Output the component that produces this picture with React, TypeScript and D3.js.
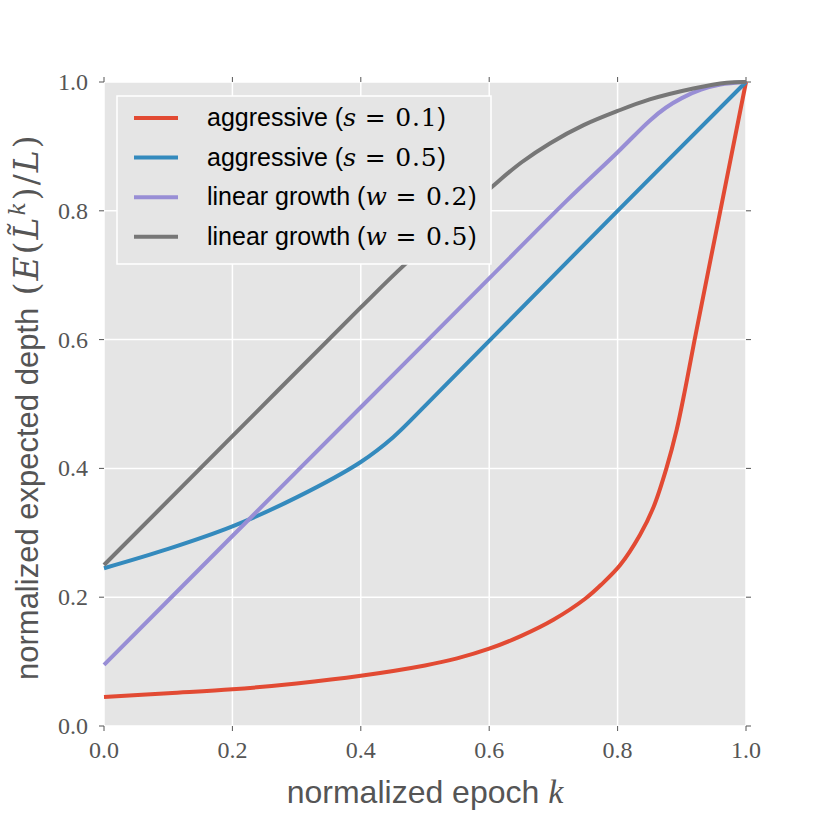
import React from 'react'
import * as d3 from 'd3'

const xTicks = [0, 0.2, 0.4, 0.6, 0.8, 1.0]
const yTicks = [0, 0.2, 0.4, 0.6, 0.8, 1.0]

// values (k, normalized depth)
const aggressive01 = [
  [0, 0.045], [0.1, 0.051], [0.2, 0.057], [0.3, 0.066], [0.4, 0.078], [0.5, 0.094],
  [0.55, 0.105], [0.6, 0.12], [0.65, 0.14], [0.7, 0.165], [0.75, 0.198], [0.775, 0.22],
  [0.804, 0.25], [0.835, 0.297], [0.856, 0.34], [0.876, 0.4], [0.892, 0.46], [0.905, 0.522],
  [0.92, 0.6], [0.96, 0.8], [1.0, 1.0]
]
const aggressive05 = [
  [0, 0.245], [0.1, 0.275], [0.2, 0.31], [0.3, 0.355], [0.4, 0.41], [0.45, 0.448],
  [0.5, 0.497], [0.6, 0.598], [0.8, 0.8], [1.0, 1.0]
]
const linear02 = [
  [0, 0.095], [0.2, 0.295], [0.4, 0.495], [0.6, 0.695], [0.72, 0.815], [0.8, 0.891],
  [0.85, 0.94], [0.875, 0.96], [0.9, 0.975], [0.93, 0.988], [0.96, 0.996], [1.0, 1.0]
]
const linear05 = [
  [0, 0.25], [0.2, 0.45], [0.4, 0.65], [0.47, 0.718], [0.604, 0.837], [0.65, 0.875],
  [0.695, 0.905], [0.747, 0.933], [0.8, 0.955], [0.85, 0.973], [0.918, 0.99],
  [0.97, 0.999], [1.0, 1.0]
]

const series = [
  { name: 'aggressive (', sym: 's', val: ' = 0.1', color: '#e24a33', data: aggressive01 },
  { name: 'aggressive (', sym: 's', val: ' = 0.5', color: '#348abd', data: aggressive05 },
  { name: 'linear growth (', sym: 'w', val: ' = 0.2', color: '#988ed5', data: linear02 },
  { name: 'linear growth (', sym: 'w', val: ' = 0.5', color: '#777777', data: linear05 },
]

const W = 830
const H = 830
const left = 104
const right = 746
const top = 82
const bottom = 726
const sans = '"Liberation Sans", Arial, sans-serif'
const serif = '"Liberation Serif", "DejaVu Serif", serif'
const mathFont = '"DejaVu Serif", serif'

export default function App() {
  const x = d3.scaleLinear().domain([0, 1]).range([left, right])
  const y = d3.scaleLinear().domain([0, 1]).range([bottom, top])
  const line = d3.line<number[]>()
    .x(d => x(d[0]))
    .y(d => y(d[1]))
    .curve(d3.curveCatmullRom.alpha(0.5))

  const tickLen = 5
  const tickColor = '#555'

  return (
    <div style={{ position: 'absolute', left: 0, top: 0 }}>
      <svg width={W} height={H} style={{ display: 'block', background: '#fff' }}>
        <rect x={left} y={top} width={right - left} height={bottom - top} fill="#e5e5e5" />
        {xTicks.map(t => (
          <line key={'gx' + t} x1={x(t)} x2={x(t)} y1={top} y2={bottom} stroke="#fff" strokeWidth={1.5} />
        ))}
        {yTicks.map(t => (
          <line key={'gy' + t} x1={left} x2={right} y1={y(t)} y2={y(t)} stroke="#fff" strokeWidth={1.5} />
        ))}

        {/* ticks on all four sides, pointing out */}
        {xTicks.map(t => (
          <g key={'tx' + t} stroke={tickColor} strokeWidth={1}>
            <line x1={x(t)} x2={x(t)} y1={bottom} y2={bottom + tickLen} />
            <line x1={x(t)} x2={x(t)} y1={top} y2={top - tickLen} />
          </g>
        ))}
        {yTicks.map(t => (
          <g key={'ty' + t} stroke={tickColor} strokeWidth={1}>
            <line x1={left} x2={left - tickLen} y1={y(t)} y2={y(t)} />
            <line x1={right} x2={right + tickLen} y1={y(t)} y2={y(t)} />
          </g>
        ))}

        <defs>
          <clipPath id="plotclip">
            <rect x={left - 3} y={top - 3} width={right - left + 6} height={bottom - top + 6} />
          </clipPath>
        </defs>
        <g clipPath="url(#plotclip)">
          {series.map(s => (
            <path key={s.color} d={line(s.data) || ''} fill="none" stroke={s.color} strokeWidth={4} strokeLinejoin="round" />
          ))}
        </g>

        {xTicks.map(t => (
          <text key={'lx' + t} x={x(t)} y={758} textAnchor="middle" fontFamily={serif} fontSize={24} fill="#555">
            {t.toFixed(1)}
          </text>
        ))}
        {yTicks.map(t => (
          <text key={'ly' + t} x={88} y={y(t) + 8} textAnchor="end" fontFamily={serif} fontSize={24} fill="#555">
            {t.toFixed(1)}
          </text>
        ))}

        <text x={425} y={803} textAnchor="middle" fontFamily={sans} fontSize={32} fill="#555">
          normalized epoch <tspan fontFamily={serif} fontStyle="italic" fontSize={34}>k</tspan>
        </text>
        <text transform="translate(38,680) rotate(-90)" x={0} y={0} fontFamily={sans} fontSize={31} fill="#555">
          normalized expected depth
          <tspan fontFamily={mathFont} fontSize={33} letterSpacing={2}> (</tspan>
          <tspan fontFamily={mathFont} fontSize={33} fontStyle="italic" letterSpacing={2}>E</tspan>
          <tspan fontFamily={mathFont} fontSize={33} letterSpacing={2}>(</tspan>
          <tspan fontFamily={mathFont} fontSize={33} fontStyle="italic" letterSpacing={2}>{'L\u0303'}</tspan>
          <tspan fontFamily={mathFont} fontSize={22} fontStyle="italic" dy={-13} letterSpacing={2}>k</tspan>
          <tspan fontFamily={mathFont} fontSize={33} dy={13} letterSpacing={2}>)/</tspan>
          <tspan fontFamily={mathFont} fontSize={33} fontStyle="italic" letterSpacing={2}>L</tspan>
          <tspan fontFamily={mathFont} fontSize={33}>)</tspan>
        </text>

        <g>
          <rect x={117} y={96} width={374} height={168} fill="#e5e5e5" stroke="#fff" strokeWidth={1.5} />
          {series.map((s, i) => {
            const cy = 118 + i * 39.6
            return (
              <g key={'lg' + i}>
                <line x1={134} x2={178} y1={cy} y2={cy} stroke={s.color} strokeWidth={4} />
                <text x={207} y={cy + 8} fontFamily={sans} fontSize={25} fill="#000">
                  {s.name}
                  <tspan fontFamily={mathFont} fontStyle="italic" fontSize={25}>{s.sym}</tspan>
                  <tspan fontFamily={mathFont} fontSize={25} letterSpacing={0.8}>{s.val}</tspan>
                  )
                </text>
              </g>
            )
          })}
        </g>
      </svg>
    </div>
  )
}
